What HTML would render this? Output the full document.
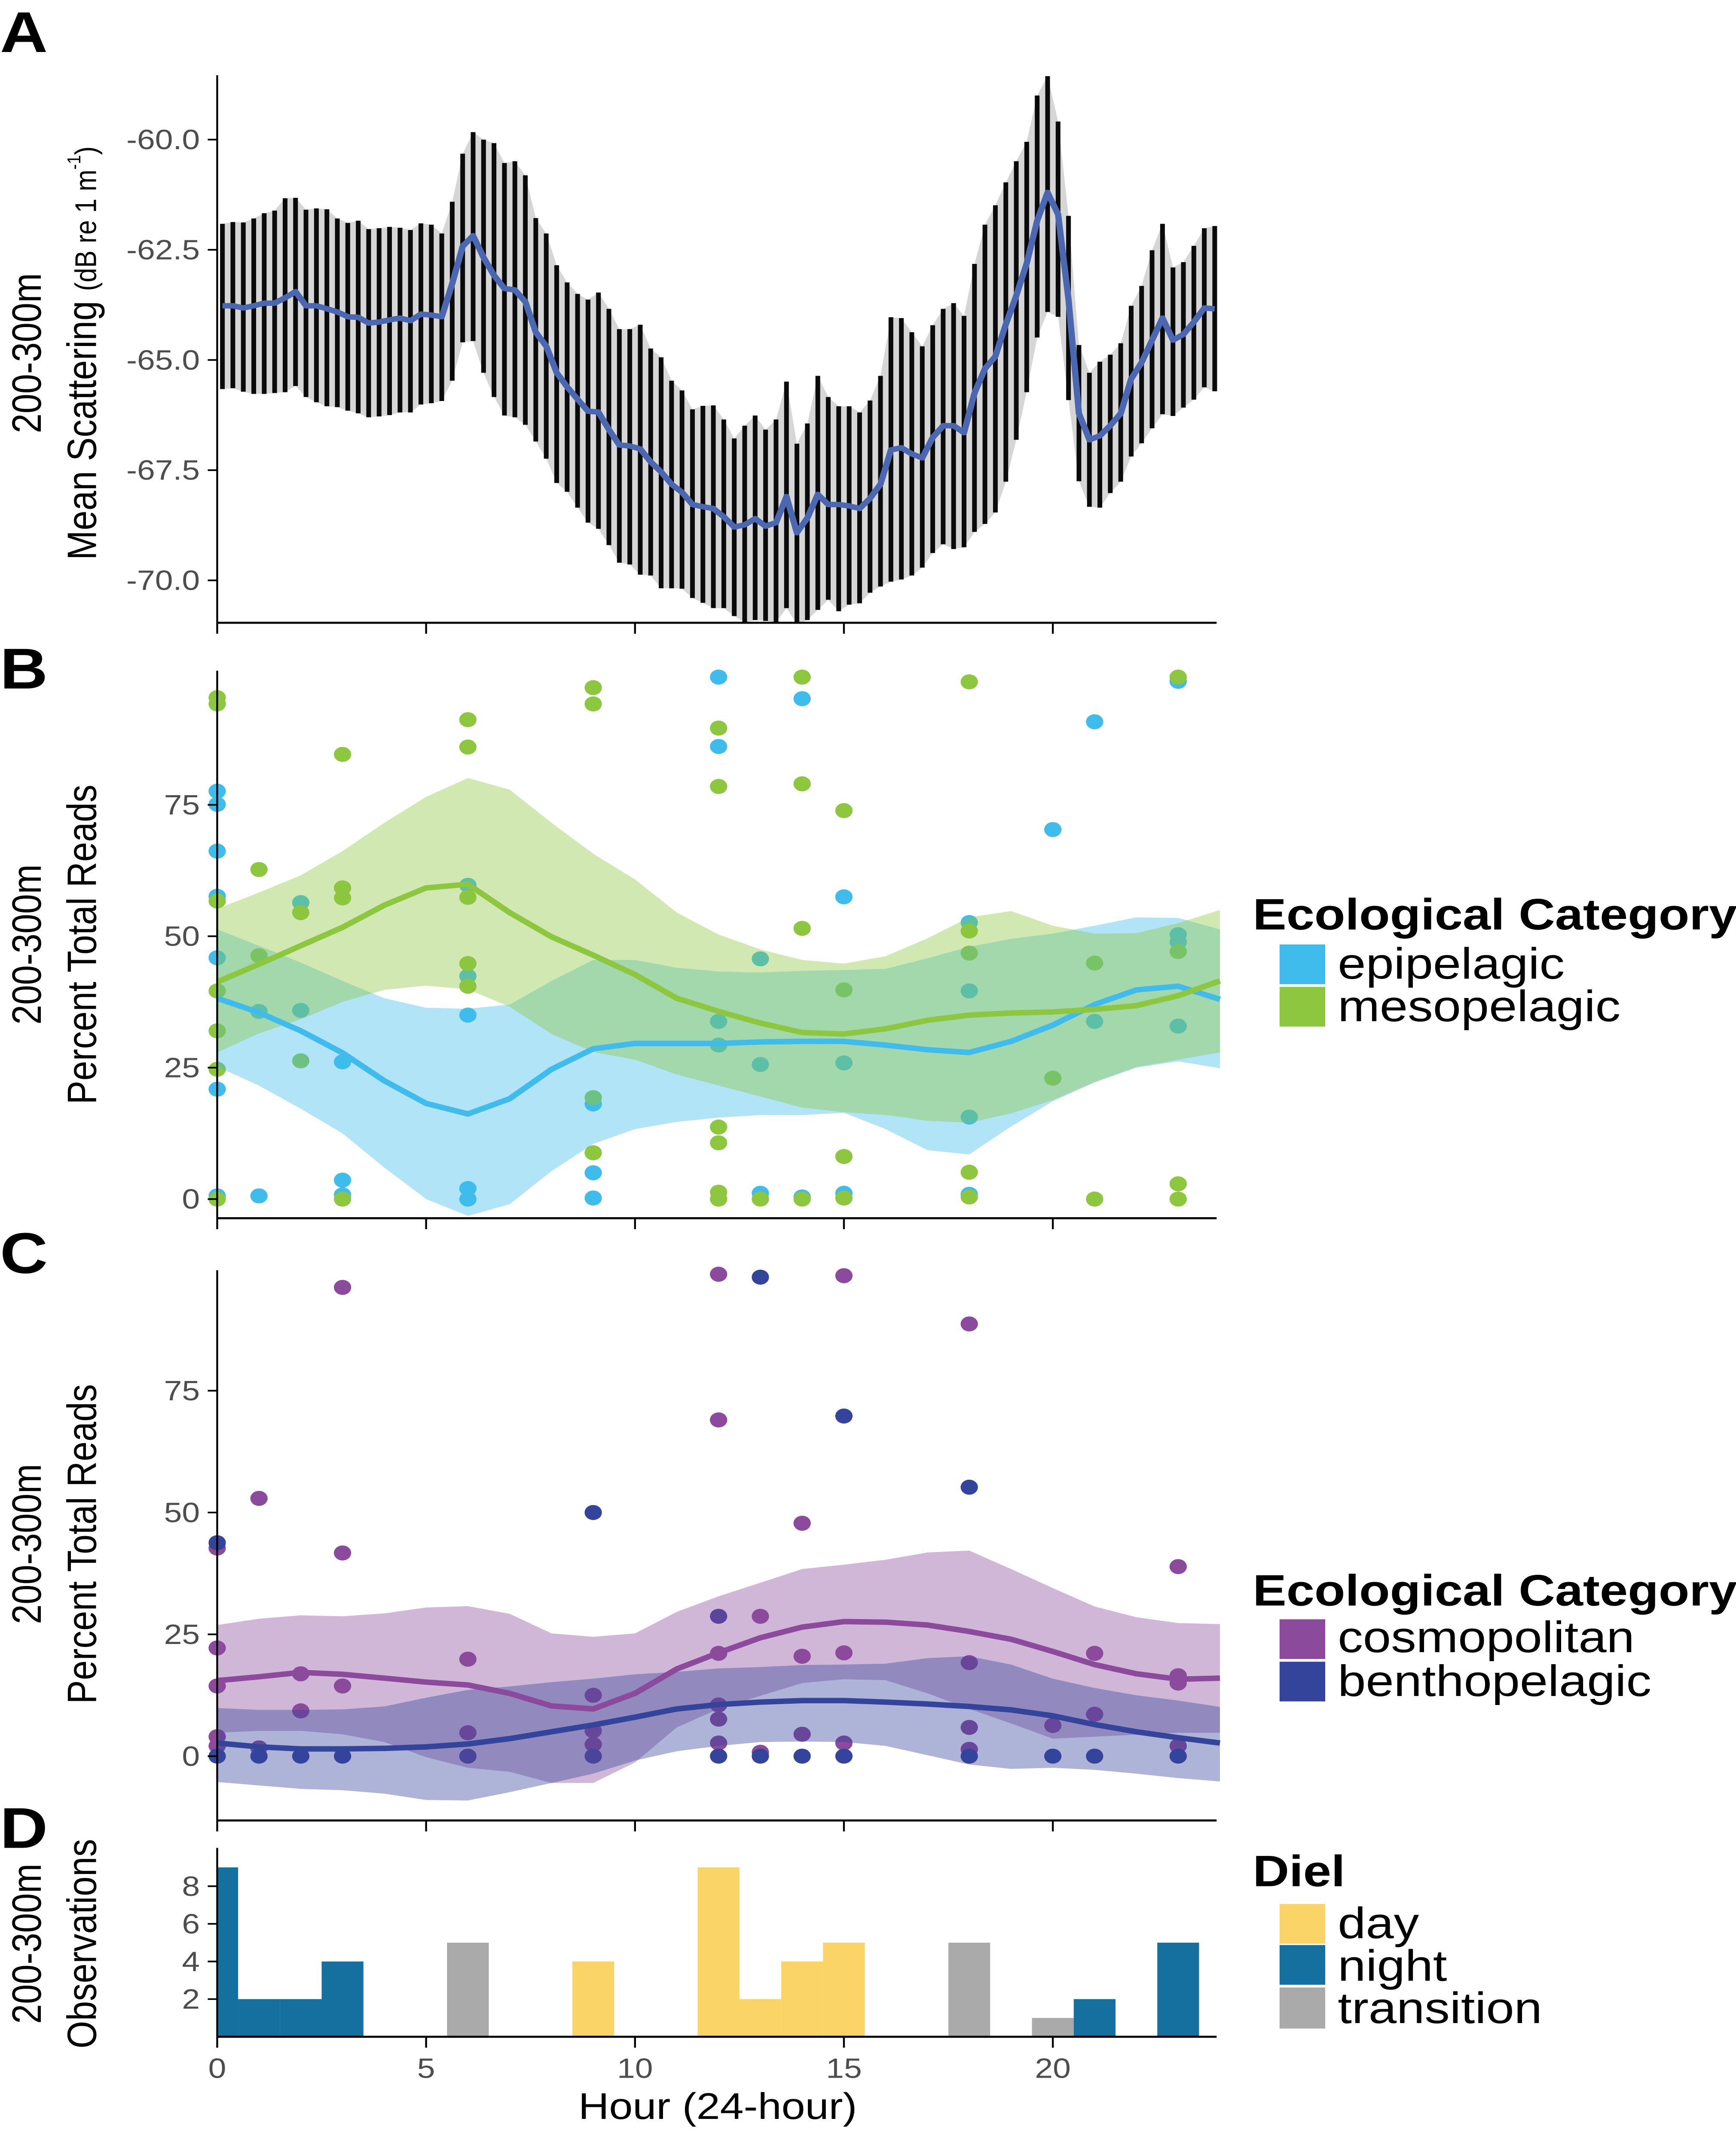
<!DOCTYPE html>
<html><head><meta charset="utf-8"><meta name="viewport" content="width=4040, initial-scale=1"><style>
html,body{margin:0;padding:0;background:#fff;overflow:hidden;width:100vw;height:100vh;}
#fig{position:fixed;left:0;top:0;width:100vw;height:100vh;display:block;font-family:"Liberation Sans",Arial,sans-serif;}
</style></head><body>
<svg id="fig" viewBox="0 0 1103 1570" preserveAspectRatio="none" xmlns="http://www.w3.org/2000/svg">
<g id="root"></g>
</svg>
<script>
// ---------- Panel A data (bars every 0.25 h starting 0.125 h) ----------
const aMean=[-63.77,-63.77,-63.82,-63.77,-63.71,-63.71,-63.59,-63.45,-63.77,-63.77,-63.84,-63.91,-64.02,-64.03,-64.16,-64.14,-64.09,-64.05,-64.11,-63.96,-63.98,-64.02,-63.27,-62.42,-62.18,-62.67,-63.08,-63.38,-63.41,-63.68,-64.37,-64.69,-65.29,-65.61,-65.89,-66.16,-66.18,-66.58,-66.93,-66.95,-67.02,-67.31,-67.54,-67.82,-68.00,-68.28,-68.33,-68.37,-68.56,-68.79,-68.74,-68.60,-68.77,-68.69,-68.10,-68.92,-68.58,-68.05,-68.28,-68.28,-68.31,-68.37,-68.14,-67.82,-67.04,-66.99,-67.13,-67.22,-66.76,-66.49,-66.49,-66.65,-65.75,-65.20,-64.92,-64.19,-63.54,-62.81,-61.84,-61.20,-61.70,-63.63,-66.21,-66.81,-66.72,-66.49,-66.21,-65.43,-65.06,-64.55,-64.05,-64.55,-64.42,-64.14,-63.82,-63.84];
const aUpper=[-61.91,-61.87,-61.88,-61.79,-61.67,-61.61,-61.33,-61.32,-61.59,-61.56,-61.58,-61.79,-61.89,-61.84,-62.03,-62.01,-61.98,-62.00,-62.05,-61.90,-61.93,-62.13,-61.41,-60.32,-59.83,-60.00,-60.08,-60.53,-60.49,-60.81,-61.78,-62.13,-62.85,-63.24,-63.50,-63.63,-63.47,-63.84,-64.30,-64.30,-64.20,-64.74,-64.94,-65.47,-65.69,-66.12,-66.04,-66.03,-66.35,-66.78,-66.49,-66.26,-66.58,-66.35,-65.49,-66.90,-66.44,-65.36,-65.84,-66.05,-66.05,-66.19,-65.92,-65.36,-64.03,-64.05,-64.37,-64.69,-64.21,-63.84,-63.71,-64.00,-62.82,-61.93,-61.49,-60.97,-60.49,-60.05,-59.00,-58.56,-59.59,-61.73,-64.66,-65.29,-65.04,-64.88,-64.62,-63.77,-63.32,-62.51,-61.91,-62.90,-62.78,-62.41,-62.01,-61.96];
const aLower=[-65.66,-65.64,-65.72,-65.77,-65.77,-65.75,-65.73,-65.59,-65.84,-65.96,-66.05,-66.07,-66.15,-66.21,-66.30,-66.28,-66.25,-66.19,-66.19,-66.01,-65.98,-65.93,-65.47,-64.60,-64.57,-65.29,-65.84,-66.26,-66.30,-66.47,-66.85,-67.24,-67.79,-67.99,-68.35,-68.69,-68.83,-69.20,-69.60,-69.64,-69.87,-69.89,-70.18,-70.18,-70.19,-70.40,-70.51,-70.63,-70.63,-70.81,-70.95,-70.90,-70.92,-70.95,-70.63,-70.99,-70.90,-70.67,-70.44,-70.70,-70.55,-70.52,-70.28,-70.14,-70.03,-69.98,-69.89,-69.71,-69.38,-69.18,-69.29,-69.25,-68.90,-68.72,-68.46,-67.76,-66.81,-65.73,-64.49,-63.91,-64.02,-65.91,-67.75,-68.33,-68.35,-68.02,-67.76,-67.19,-66.89,-66.55,-66.23,-66.27,-66.08,-65.90,-65.62,-65.71];
const aTicks=[-60.0,-62.5,-65.0,-67.5,-70.0];
const xTicks=[0,5,10,15,20];

// ---------- Panel B data ----------
const smoothHours=[0,1,2,3,4,5,6,7,8,9,10,11,12,13,14,15,16,17,18,19,20,21,22,23,24];
const mesoFit=[41.3,44.7,48.2,51.7,55.9,59.2,59.9,54.5,49.9,46.4,42.7,38.2,35.7,33.5,31.7,31.4,32.4,34,35,35.4,35.6,36.1,36.8,38.7,41.5];
const mesoHi=[55.2,58.3,61.6,66.2,71.6,76.5,80.1,77.9,71.6,65.7,60.8,54.5,50.3,47.5,45.5,44.8,46.2,49.6,53.6,54.8,52,50.5,50.6,52.5,55];
const mesoLo=[27.9,31.5,34.2,37.5,39.8,40.6,39.9,36.6,31.4,28,26.5,23.7,21.6,19.5,17.4,16.5,16,14.9,14.5,16.3,18.8,22.3,25.1,26.5,27.9];
const epiFit=[38.2,35.5,32,27.8,22.5,18.2,16.2,19.1,24.7,28.6,29.6,29.6,29.6,29.9,30,30,29.3,28.4,27.9,30,33.1,37,39.8,40.5,38];
const epiHi=[51.3,48.2,45,41.5,38.2,36.4,36.2,37,41.5,45.5,45.5,44,43.3,43.1,43.4,43.6,43.8,45.8,48,49.5,50.5,52,53.6,53.5,51.3];
const epiLo=[25.2,21.6,17.2,12.5,6,0,-3.2,-1,5.3,10.5,13.3,14.7,15.5,16,16,16.4,13.3,9.3,8.5,13.8,18.6,22.2,25,26.2,24.9];
const epiPtHour=[0,0,0,0,0,0,0,1,1,2,2,3,3,3,6,6,6,6,6,9,9,9,12,12,12,12,13,13,13,14,14,15,15,15,18,18,18,18,20,21,21,23,23,23,23];
const epiPtVal=[77.6,75.1,66.2,57.6,45.9,20.9,0.6,35.7,0.6,56.4,35.9,26.1,3.6,0.8,59.7,42.4,35,2,0,18.1,5,0.2,99.3,86.1,33.8,29.3,45.7,25.6,1.1,95.2,0.4,57.5,25.9,1.1,52.6,39.6,15.6,0.9,70.3,90.8,33.8,98.5,50.3,48.9,32.9];
const mesoPtHour=[0,0,0,0,0,0,0,1,1,2,2,3,3,3,3,6,6,6,6,6,9,9,9,9,12,12,12,12,12,12,13,14,14,14,14,15,15,15,15,18,18,18,18,18,20,21,21,23,23,23,23];
const mesoPtVal=[95.4,94.2,56.7,39.6,32,24.7,0,62.7,46.3,54.5,26.3,84.6,59.2,57.3,0,91.2,86,57.4,44.8,40.5,97.3,94.2,19.3,8.8,89.6,78.5,13.7,10.7,1.3,0,0,99.3,79,51.5,0,73.9,39.8,8.1,0.2,98.4,51,46.8,5.1,0.4,23,44.9,0,99.3,47.1,2.9,0];
const pctTicks=[0,25,50,75];

// ---------- Panel C data ----------
const cosmoFit=[15.5,16.3,17.2,16.8,16,15.2,14.6,12.9,10.3,9.7,12.9,17.9,21.2,24.3,26.5,27.6,27.5,26.9,25.6,24,21.5,18.8,16.9,15.8,16];
const cosmoHi=[26.9,28.2,28.9,28.7,29.3,30.5,30.8,29.2,25.2,24.5,25.2,29.6,32.8,35.6,38.4,39.3,40.3,41.8,42.2,38.4,34.5,30.7,28.5,27.3,27.1];
const cosmoLo=[4.8,5.2,5.2,4.5,2.9,-0.2,-2.4,-3.2,-5.5,-5.5,-1.3,5.9,9.7,12.4,15,15.8,15.6,12.9,9.7,6.7,3.6,4,4.4,4.8,4.8];
const benthoFit=[2.7,1.9,1.5,1.5,1.6,1.9,2.5,3.6,5,6.4,8,9.7,10.6,11.1,11.4,11.4,11.1,10.7,10.2,9.5,8.3,6.5,5,3.8,2.7];
const benthoHi=[9.9,9.5,9.5,9.6,10.2,12,13.6,14.3,15.2,15.9,16.8,17.3,18,18.3,18.7,18.8,19,20.1,20.5,18.8,15.9,14,12.5,11.4,10.1];
const benthoLo=[-5.3,-6,-6.7,-7,-7.7,-9,-9.1,-7.4,-5.5,-3.6,-0.9,1,2.1,2.9,3,2.9,2.1,0.2,-1.7,-2.6,-2.4,-2.8,-3.6,-4.5,-5.2];
const cosmoPtHour=[0,0,0,0,0,1,1,2,2,3,3,3,6,6,9,9,9,12,12,12,12,12,12,13,13,14,14,14,15,15,15,18,18,18,18,20,21,21,23,23,23,23];
const cosmoPtVal=[42.7,22.2,14.4,4,2.1,52.9,1.7,16.9,9.3,96.2,41.7,14.4,19.9,4.8,12.5,5.2,2.4,98.9,69,21.1,10.5,7.6,2.7,28.7,0.8,47.8,20.5,4.5,98.6,21.2,2.7,88.7,19.2,5.9,1.4,6.3,21.1,8.6,38.9,16.5,15,2.1];
const benthoPtHour=[0,0,1,2,3,6,9,9,12,12,13,13,14,15,15,18,18,20,21,23];
const benthoPtVal=[43.8,0,0,0,0,0,50,0,28.7,0,98.3,0,0,69.8,0,55.2,0,0,0,0];

// ---------- Panel D data ----------
const obsHours=[0,1,2,3,6,9,12,13,14,15,18,20,21,23];
const obsCounts=[9,2,2,4,5,4,9,2,4,5,5,1,2,5];
const obsDiel=['night','night','night','night','transition','day','day','day','day','day','transition','transition','night','night'];
const obsTicks=[2,4,6,8];

// ---------- helpers ----------
const NS='http://www.w3.org/2000/svg';
const root=document.getElementById('root');
function mk(tag,attrs,parent){const e=document.createElementNS(NS,tag);for(const k in attrs)e.setAttribute(k,attrs[k]);(parent||root).appendChild(e);return e;}
const X0=138,X1=773;
function xs(h){return X0+h*(X1-X0)/23.92;}
const GREY='#4d4d4d';
const TICKFS=20.5, TITLEFS=26, LEGFS=32;

function axisFrame(g,top,bottom,ticks,ys,fmt,showXLabels){
  const ya=mk('line',{x1:X0,y1:top,x2:X0,y2:bottom,stroke:'#000','stroke-width':1.2},g);
  
  const xa=mk('line',{x1:X0,y1:bottom,x2:X1,y2:bottom,stroke:'#000','stroke-width':1.5},g);
  
  ticks.forEach(v=>{
    const y=ys(v);
    const t=mk('line',{x1:X0-6,y1:y,x2:X0,y2:y,stroke:'#000','stroke-width':1.2},g);
    
    const l=mk('text',{x:X0-11,y:y+7,'text-anchor':'end','font-size':TICKFS,fill:GREY},g);
    l.textContent=fmt(v);
    
  });
  xTicks.forEach(h=>{
    const x=xs(h);
    const t=mk('line',{x1:x,y1:bottom,x2:x,y2:bottom+8,stroke:'#000','stroke-width':1.2},g);
    
    if(showXLabels){
      const l=mk('text',{x:x,y:bottom+30,'text-anchor':'middle','font-size':TICKFS,fill:GREY},g);
      l.textContent=String(h);
      
    }
  });
}
function yTitle(g,cy,line1,line2){
  const t1=mk('text',{x:0,y:0,'text-anchor':'middle','font-size':TITLEFS,fill:'#000',transform:`translate(26,${cy}) rotate(-90)`},g);
  t1.textContent=line1;
  const t2=mk('text',{x:0,y:0,'text-anchor':'middle','font-size':TITLEFS,fill:'#000',transform:`translate(61,${cy}) rotate(-90)`},g);
  t2.innerHTML=line2;
}
function letter(g,ch,y){
  const t=mk('text',{x:0,y:y,'font-size':42,'font-weight':'bold',fill:'#000'},g);
  t.textContent=ch;
}
function ribbon(g,hi,lo,ys,color,name){
  let d='';
  smoothHours.forEach((h,i)=>{d+=(i?'L':'M')+xs(h).toFixed(1)+','+ys(hi[i]).toFixed(1);});
  for(let i=smoothHours.length-1;i>=0;i--)d+='L'+xs(smoothHours[i]).toFixed(1)+','+ys(lo[i]).toFixed(1);
  const p=mk('path',{d:d+'Z',fill:color,'fill-opacity':0.4,stroke:'none'},g);
  
}
function fitLine(g,vals,ys,color,name){
  const pts=smoothHours.map((h,i)=>xs(h).toFixed(1)+','+ys(vals[i]).toFixed(1)).join(' ');
  const p=mk('polyline',{points:pts,fill:'none',stroke:color,'stroke-width':4,'stroke-linejoin':'round'},g);
  
}
function points(g,hours,vals,ys,color,name){
  hours.forEach((h,i)=>{
    const c=mk('circle',{cx:xs(h),cy:ys(vals[i]),r:5.5,fill:color},g);
    
  });
}
function legend(g,title,ty,items){
  const t=mk('text',{x:796,y:ty,'font-size':LEGFS,'font-weight':'bold',fill:'#000'},g);
  t.textContent=title;
  items.forEach(it=>{
    const r=mk('rect',{x:813,y:it.y,width:29,height:it.h,fill:it.c},g);
    
    const l=mk('text',{x:850,y:it.ty,'font-size':LEGFS,fill:'#000'},g);
    l.textContent=it.n;
  });
}

// ---------- Panel A ----------
(function(){
  const g=mk('g',{});
  const top=55,bottom=455;
  const ys=v=>102+(-60-v)*32.2;
  const clip=mk('clipPath',{id:'clipA'},g);mk('rect',{x:X0,y:top,width:X1-X0+2,height:bottom-top},clip);
  const pg=mk('g',{'clip-path':'url(#clipA)'},g);
  const bx=i=>xs(0.125+0.25*i);
  let d='';aUpper.forEach((v,i)=>{d+=(i?'L':'M')+bx(i).toFixed(1)+','+ys(v).toFixed(1);});
  for(let i=aLower.length-1;i>=0;i--)d+='L'+bx(i).toFixed(1)+','+ys(aLower[i]).toFixed(1);
  const rb=mk('path',{d:d+'Z',fill:'#d6d6d6'},pg);
  aMean.forEach((m,i)=>{
    const b=mk('line',{x1:bx(i),x2:bx(i),y1:ys(aUpper[i]),y2:ys(aLower[i]),stroke:'#0a0a0a','stroke-width':3},pg);
    
  });
  const pl=mk('polyline',{points:aMean.map((m,i)=>bx(i).toFixed(1)+','+ys(m).toFixed(1)).join(' '),fill:'none',stroke:'#4a67b0','stroke-width':4,'stroke-linejoin':'round'},pg);
  
  axisFrame(g,top,bottom,aTicks,ys,v=>v.toFixed(1),false);
  yTitle(g,258,'200-300m','Mean Scattering <tspan font-size="19">(dB re 1 m</tspan><tspan font-size="12" dy="-10">-1</tspan><tspan font-size="19" dy="10">)</tspan>');
  letter(g,'A',38);
})();

// ---------- Panel B ----------
(function(){
  const g=mk('g',{});
  const top=490,bottom=890;
  const ys=v=>876-v*3.84;
  points(g,epiPtHour,epiPtVal,ys,'#3fbcec','epipelagic-point');
  points(g,mesoPtHour,mesoPtVal,ys,'#8dc63f','mesopelagic-point');
  ribbon(g,epiHi,epiLo,ys,'#3fbcec','epipelagic-ribbon');
  ribbon(g,mesoHi,mesoLo,ys,'#8dc63f','mesopelagic-ribbon');
  fitLine(g,epiFit,ys,'#3fbcec','epipelagic-line');
  fitLine(g,mesoFit,ys,'#8dc63f','mesopelagic-line');
  axisFrame(g,top,bottom,pctTicks,ys,v=>String(v),false);
  yTitle(g,690,'200-300m','Percent Total Reads');
  letter(g,'B',503);
  legend(g,'Ecological Category',679,[{n:'epipelagic',c:'#3fbcec',y:690,h:29,ty:715},{n:'mesopelagic',c:'#8dc63f',y:721,h:29,ty:746}]);
})();

// ---------- Panel C ----------
(function(){
  const g=mk('g',{});
  const top=928,bottom=1330;
  const ys=v=>1283-v*3.56;
  points(g,cosmoPtHour,cosmoPtVal,ys,'#8b4a9c','cosmopolitan-point');
  points(g,benthoPtHour,benthoPtVal,ys,'#34449b','benthopelagic-point');
  ribbon(g,cosmoHi,cosmoLo,ys,'#8b4a9c','cosmopolitan-ribbon');
  ribbon(g,benthoHi,benthoLo,ys,'#34449b','benthopelagic-ribbon');
  fitLine(g,cosmoFit,ys,'#8b4a9c','cosmopolitan-line');
  fitLine(g,benthoFit,ys,'#34449b','benthopelagic-line');
  axisFrame(g,top,bottom,[0,25,50,75],ys,v=>String(v),false);
  yTitle(g,1128,'200-300m','Percent Total Reads');
  letter(g,'C',930);
  legend(g,'Ecological Category',1173,[{n:'cosmopolitan',c:'#8b4a9c',y:1183,h:29,ty:1207},{n:'benthopelagic',c:'#34449b',y:1214,h:29,ty:1239}]);
})();

// ---------- Panel D ----------
(function(){
  const g=mk('g',{});
  const top=1350,bottom=1488;
  const ys=v=>bottom-v*13.75;
  const col={day:'#fbd467',night:'#1570a0',transition:'#aaaaaa'};
  obsHours.forEach((h,i)=>{
    const x0=Math.max(xs(h-0.5),X0),x1=Math.min(xs(h+0.5),X1);
    const r=mk('rect',{x:x0,y:ys(obsCounts[i]),width:x1-x0,height:bottom-ys(obsCounts[i]),fill:col[obsDiel[i]]},g);
    
  });
  axisFrame(g,top,bottom,obsTicks,ys,v=>String(v),true);
  yTitle(g,1420,'200-300m','Observations');
  const xt=mk('text',{x:456,y:1548,'text-anchor':'middle','font-size':TITLEFS+1,fill:'#000'},g);
  xt.textContent='Hour (24-hour)';
  letter(g,'D',1350);
  legend(g,'Diel',1378,[{n:'day',c:'#fbd467',y:1391,h:29,ty:1416},{n:'night',c:'#1570a0',y:1421,h:29,ty:1447},{n:'transition',c:'#aaaaaa',y:1452,h:30,ty:1478}]);
})();
</script>
</body></html>
